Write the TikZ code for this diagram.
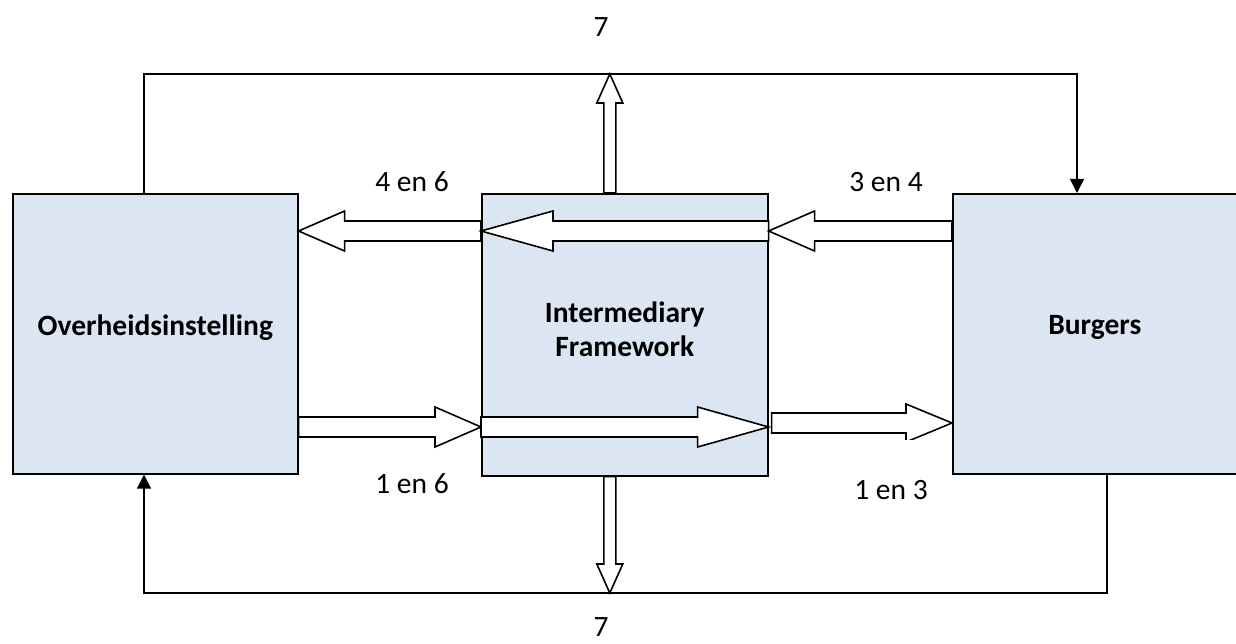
\documentclass[tikz,border=0pt]{standalone}
\usepackage{fontspec}
\setmainfont{Carlito}
\usetikzlibrary{calc,arrows.meta}
\definecolor{boxfill}{HTML}{DCE6F2}
\tikzset{
  box/.style={draw=black, line width=1.6pt, fill=boxfill, inner sep=0pt, anchor=north west},
  boxtext/.style={font=\fontsize{29.5}{34}\selectfont\bfseries, align=center, inner sep=0pt},
  barrow/.style={draw=black, line width=1.6pt, fill=white, line join=miter},
  link/.style={draw=black, line width=1.6pt},
  lbl/.style={font=\fontsize{29.5}{34}\selectfont, inner sep=0pt},
  tipend/.style={-{Triangle[length=14pt,width=14pt]}},
}
% horizontal block arrow: start, tip, signed head length, shaft half width, head half width
\newcommand\harrow[5]{\draw[barrow] ($#1+(0,#4)$) -- ($#2+(#3,#4)$) -- ($#2+(#3,#5)$) -- #2
  -- ($#2+(#3,-#5)$) -- ($#2+(#3,-#4)$) -- ($#1+(0,-#4)$) -- cycle;}
% vertical block arrow
\newcommand\varrow[5]{\draw[barrow] ($#1+(#4,0)$) -- ($#2+(#4,#3)$) -- ($#2+(#5,#3)$) -- #2
  -- ($#2+(-#5,#3)$) -- ($#2+(-#4,#3)$) -- ($#1+(-#4,0)$) -- cycle;}
\begin{document}
\begin{tikzpicture}[x=1pt,y=-1pt]
\useasboundingbox (0,0) rectangle (1236,644);
\fill[white] (0,0) rectangle (1236,644);

% box positions
\path (12,193) coordinate (Lnw) (481,193) coordinate (Mnw) (952,193) coordinate (Rnw);

% helper levels
\coordinate (ct) at (0,74);
\coordinate (cb) at (0,593);
\coordinate (yA) at (0,231);
\coordinate (yB) at (0,427);
\coordinate (yC) at (0,423);

% boxes
\node[box, minimum width=285pt, minimum height=280pt] (L) at (Lnw) {};
\node[box, minimum width=286pt, minimum height=282pt] (M) at (Mnw) {};
\node[box, minimum width=284pt, minimum height=280pt] (R) at (Rnw) {};
\node[boxtext] (Lt) at ($(L.center)+(0,-6)$) {Overheidsinstelling};
\node[boxtext] (Mt) at ($(M.center)+(0,-6)$) {Intermediary\\Framework};
\node[boxtext] (Rt) at ($(R.center)+(0,-6)$) {Burgers};

% thin feedback connectors
\coordinate (Ltop) at ($(L.north west)+(132,0)$);
\coordinate (Rtop) at ($(R.north west)+(125,0)$);
\coordinate (Rbot) at ($(R.south west)+(155,0)$);
\coordinate (Lbot) at ($(L.south west)+(132,0)$);
\draw[link,tipend] (Ltop) -- (Ltop |- ct) -| (Rtop);
\draw[link,tipend] (Rbot) -- (Rbot |- cb) -| (Lbot);

% top row of block arrows (right to left)
\coordinate (t1) at (L.east |- yA);
\coordinate (t2) at (M.west |- yA);
\coordinate (t3) at (M.east |- yA);
\coordinate (t4) at (R.west |- yA);
\harrow{(t2)}{(t1)}{46}{10}{20}
\harrow{(t3)}{(t2)}{72}{10}{20}
\harrow{(t4)}{(t3)}{46}{10}{20}

% bottom row of block arrows (left to right)
\coordinate (b1) at (L.east |- yB);
\coordinate (b2) at (M.west |- yB);
\coordinate (b3) at (M.east |- yB);
\coordinate (b4) at ($(M.east |- yC)+(3,0)$);
\coordinate (b5) at (R.west |- yC);
\harrow{(b1)}{(b2)}{-46}{10}{20}
\harrow{(b2)}{(b3)}{-71}{10}{20}
\begin{scope}
  \clip (760,380) rectangle (970,439.5);
  \harrow{(b4)}{(b5)}{-46}{10}{19}
\end{scope}

% vertical block arrows
\coordinate (vu) at ($(M.north)+(-15,0)$);
\coordinate (vt) at (vu |- ct);
\coordinate (vd) at ($(M.south)+(-15,0)$);
\coordinate (vb) at (vd |- cb);
\varrow{(vu)}{(vt)}{29}{6}{13}
\varrow{(vd)}{(vb)}{-29}{6}{13}

% labels
\node[lbl] (l7t) at (601,27) {7};
\node[lbl] (l46) at (412,182) {4 en 6};
\node[lbl] (l34) at (886,182) {3 en 4};
\node[lbl] (l16) at (412,484) {1 en 6};
\node[lbl] (l13) at (891,490) {1 en 3};
\node[lbl] (l7b) at (601,627) {7};
\end{tikzpicture}
\end{document}
